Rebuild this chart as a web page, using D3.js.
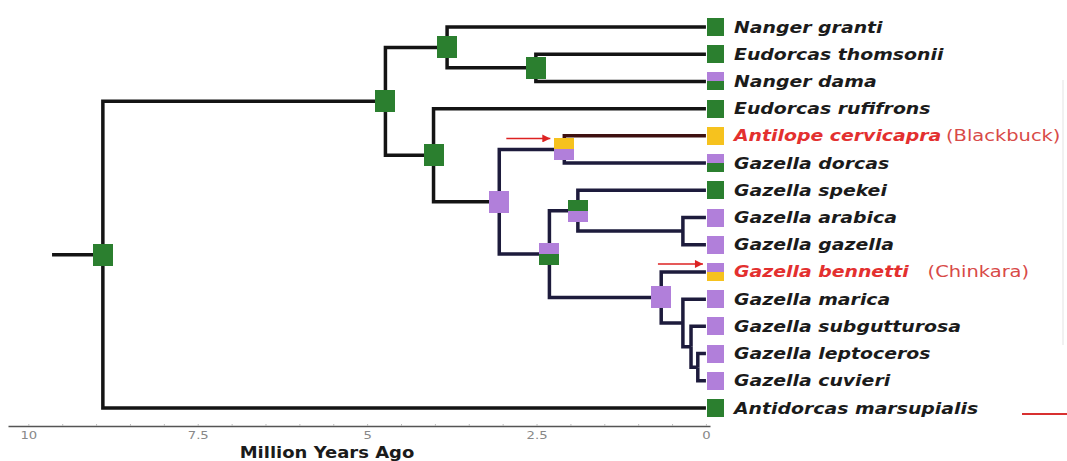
<!DOCTYPE html>
<html>
<head>
<meta charset="utf-8">
<script src="https://cdn.jsdelivr.net/npm/d3@7.9.0/dist/d3.min.js"></script>
<style>
  body { margin: 0; background: #fff; }
  svg { display: block; font-family: "DejaVu Sans", Verdana, sans-serif; }
</style>
</head>
<body>
<div id="chart"></div>
<script>
// tree as a parent table (ages in million years ago)
const nodeIds = ["root", "n1", "n2", "Nanger granti", "n3", "Eudorcas thomsonii", "Nanger dama",
  "n4", "Eudorcas rufifrons", "n5", "n6", "Antilope cervicapra", "Gazella dorcas",
  "n7", "n8", "Gazella spekei", "n9", "Gazella arabica", "Gazella gazella",
  "n10", "Gazella bennetti", "n11", "Gazella marica", "n12", "Gazella subgutturosa",
  "n13", "Gazella leptoceros", "Gazella cuvieri", "Antidorcas marsupialis"];
const parentIds = ["", "root", "n1", "n2", "n2", "n3", "n3",
  "n1", "n4", "n4", "n5", "n6", "n6",
  "n5", "n7", "n8", "n8", "n9", "n9",
  "n7", "n10", "n10", "n11", "n11", "n12",
  "n12", "n13", "n13", "root"];
const ages = [8.9, 4.73, 3.82, 0, 2.51, 0, 0,
  4.02, 0, 3.05, 2.09, 0, 0,
  2.31, 1.89, 0, 0.34, 0, 0,
  0.66, 0, 0.34, 0, 0.22, 0,
  0.12, 0, 0, 0];
// ancestral state boxes: top half / bottom half (null = no box)
const stateTop = ["G", "G", "G", "G", "G", "G", "P",
  "G", "G", "P", "Y", "Y", "P",
  "P", "G", "G", null, "P", "P",
  "P", "P", null, "P", null, "P",
  null, "P", "P", "G"];
const stateBottom = ["G", "G", "G", "G", "G", "G", "G",
  "G", "G", "P", "P", "Y", "G",
  "G", "P", "G", null, "P", "P",
  "P", "Y", null, "P", null, "P",
  null, "P", "P", "G"];
const rootStemAge = 9.65;
const highlighted = ["Antilope cervicapra", "Gazella bennetti"];
const commonNames = ["Blackbuck", "Chinkara"];
const arrowTargets = ["n6", "Gazella bennetti"];
const tickValues = [10, 7.5, 5, 2.5, 0];
const axisTitle = "Million Years Ago";

const width = 1067, height = 461;
const svg = d3.select("#chart").append("svg")
  .attr("width", width).attr("height", height);

const rows = nodeIds.map((id, i) => ({
  id, parent: parentIds[i], age: ages[i], top: stateTop[i], bottom: stateBottom[i]
}));
const root = d3.stratify().id(d => d.id).parentId(d => d.parent || null)(rows);

const x = d3.scaleLinear().domain([10.3, -0.06]).range([8, 710]);
const leaves = root.leaves();
const yLeaf = d3.scalePoint().domain(leaves.map(d => d.id)).range([27, 408]);

root.eachAfter(n => {
  n.px = x(n.data.age);
  if (!n.children) n.py = yLeaf(n.id);
  else n.py = (n.children[0].py + n.children[n.children.length - 1].py) / 2;
});

const stateColor = d3.scaleOrdinal().domain(["G", "P", "Y"])
  .range(["#2b7f2f", "#b17fda", "#f6c21e"]);

function branchColor(n) {
  if (n.id === "Antilope cervicapra") return "#3e1010";
  if (n.ancestors().some(a => a.id === "n5") && n.id !== "n5") return "#1d1b3c";
  return "#141414";
}

// root stem
svg.append("line")
  .attr("x1", x(rootStemAge)).attr("x2", root.px)
  .attr("y1", root.py).attr("y2", root.py)
  .attr("stroke", "#141414").attr("stroke-width", 3.5);

// branches
svg.append("g").selectAll("path")
  .data(root.descendants().filter(d => d.parent))
  .join("path")
  .attr("fill", "none")
  .attr("stroke", d => branchColor(d))
  .attr("stroke-width", 3.5)
  .attr("stroke-linejoin", "miter")
  .attr("d", d => `M${d.parent.px},${d.parent.py}V${d.py}H${d.px}`);

// state boxes
const boxes = svg.append("g")
  .attr("shape-rendering", "crispEdges")
  .selectAll("g")
  .data(root.descendants().filter(d => d.data.top))
  .join("g")
  .attr("transform", d => d.children
    ? `translate(${Math.round(d.px - 10)},${Math.round(d.py - 11)})`
    : `translate(${Math.round(d.px + 1)},${Math.round(d.py - 9)})`);
boxes.append("rect")
  .attr("width", d => d.children ? 20 : 17)
  .attr("height", d => d.children ? 22 : 18)
  .attr("fill", d => stateColor(d.data.bottom));
boxes.append("rect")
  .attr("width", d => d.children ? 20 : 17)
  .attr("height", d => d.children ? 11 : 9)
  .attr("fill", d => stateColor(d.data.top));

// leaf labels
const labels = svg.append("g").selectAll("text")
  .data(leaves)
  .join("text")
  .attr("transform", d => `translate(734,${d.py + 5.5}) scale(1.18,1)`)
  .style("font-size", "16px");
labels.append("tspan")
  .attr("font-weight", "bold")
  .attr("font-style", "italic")
  .attr("fill", d => highlighted.includes(d.id) ? "#e3302f" : "#1b1b1b")
  .text(d => d.id);
labels.filter(d => highlighted.includes(d.id))
  .append("tspan")
  .attr("dx", d => d.id === "Gazella bennetti" ? 16 : 4)
  .attr("fill", "#d84a48")
  .style("font-size", "16.5px")
  .text(d => `(${commonNames[highlighted.indexOf(d.id)]})`);

// red arrows
svg.append("defs").append("marker")
  .attr("id", "head").attr("viewBox", "0 0 10 10")
  .attr("refX", 10).attr("refY", 5)
  .attr("markerWidth", 6).attr("markerHeight", 5)
  .attr("orient", "auto")
  .append("path").attr("d", "M0,0L10,5L0,10Z").attr("fill", "#dd2222");
const byId = new Map(root.descendants().map(d => [d.id, d]));
svg.append("g").selectAll("line")
  .data(arrowTargets.map(id => byId.get(id)))
  .join("line")
  .attr("x1", d => d.children ? d.px - 58 : d.px - 48)
  .attr("x2", d => d.children ? d.px - 14 : d.px - 3)
  .attr("y1", d => d.children ? d.py - 11 : d.py - 8)
  .attr("y2", d => d.children ? d.py - 11 : d.py - 8)
  .attr("stroke", "#dd2222").attr("stroke-width", 1.6)
  .attr("marker-end", "url(#head)");

// stray marks at the right edge
svg.append("line")
  .attr("x1", 1022).attr("x2", 1067).attr("y1", 414).attr("y2", 414)
  .attr("stroke", "#d83030").attr("stroke-width", 2);
svg.append("line")
  .attr("x1", 1063).attr("x2", 1063).attr("y1", 80).attr("y2", 345)
  .attr("stroke", "#ececec").attr("stroke-width", 1.5);

// axis
const axisG = svg.append("g")
  .attr("transform", "translate(0,426)")
  .call(d3.axisBottom(x).tickValues(tickValues).tickSize(0).tickPadding(5)
    .tickFormat(d => String(d)));
axisG.select(".domain").attr("stroke", "#555").attr("stroke-width", 1.5);
axisG.selectAll("text")
  .attr("fill", "#888")
  .attr("transform", "scale(1.2,1)")
  .style("font-size", "11px")
  .style("font-family", "'DejaVu Sans', sans-serif");
svg.append("g")
  .attr("transform", "translate(0,426)")
  .call(d3.axisTop(x).tickValues(d3.range(0, 10.01, 0.5)).tickSize(2).tickFormat(""))
  .call(g => g.select(".domain").remove())
  .selectAll("line").attr("stroke", "#bbb");

svg.append("text")
  .attr("transform", "translate(327,458) scale(1.2,1)")
  .attr("text-anchor", "middle")
  .attr("font-weight", "bold")
  .attr("fill", "#1b1b1b")
  .style("font-size", "15px")
  .text(axisTitle);
</script>
</body>
</html>
